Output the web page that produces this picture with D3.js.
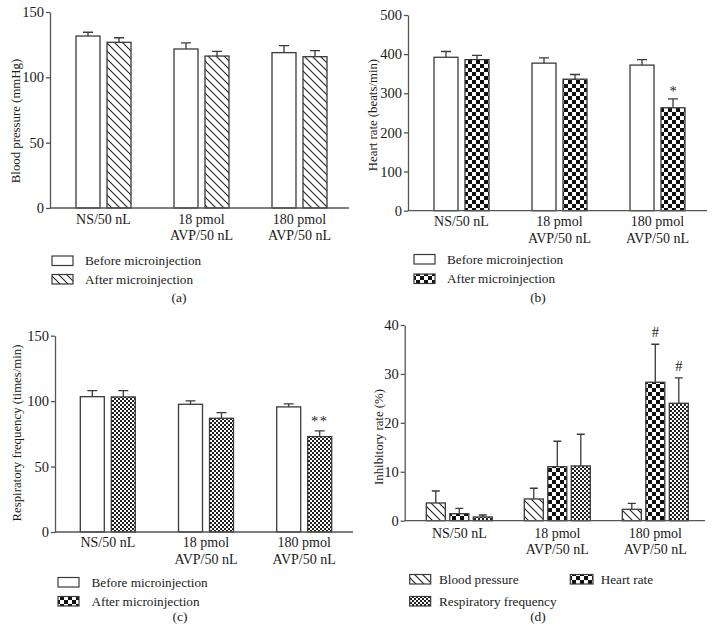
<!DOCTYPE html>
<html><head><meta charset="utf-8">
<script src="https://cdn.jsdelivr.net/npm/d3@7"></script>
<style>
body{margin:0;background:#fff}
text{font-family:"Liberation Serif","Times New Roman",serif;fill:#1a1a1a}
</style></head><body>
<svg id="c" width="716" height="640"></svg>
<script>
// ---------- data ----------
const groups = ["NS/50 nL", "18 pmol\nAVP/50 nL", "180 pmol\nAVP/50 nL"];

const bpBefore = [131.6, 121.7, 118.9];
const bpBeforeErr = [2.9, 4.6, 5.3];
const bpAfter = [126.8, 116.3, 115.8];
const bpAfterErr = [3.5, 3.6, 4.6];

const hrBefore = [392, 377, 372];
const hrBeforeErr = [14.7, 13.5, 14];
const hrAfter = [386, 336, 263];
const hrAfterErr = [11, 12, 22.7];

const rfBefore = [103.4, 97.6, 95.6];
const rfBeforeErr = [4.6, 2.6, 2.3];
const rfAfter = [103.2, 86.9, 72.9];
const rfAfterErr = [4.8, 4.3, 4.3];

const inhBP = [3.62, 4.44, 2.33];
const inhBPErr = [2.45, 2.19, 1.23];
const inhHR = [1.43, 11.04, 28.3];
const inhHRErr = [1.1, 5.2, 7.77];
const inhRF = [0.76, 11.19, 24.0];
const inhRFErr = [0.41, 6.48, 5.2];

const ticksBP = [0, 50, 100, 150];
const ticksHR = [0, 100, 200, 300, 400, 500];
const ticksRF = [0, 50, 100, 150];
const ticksInh = [0, 10, 20, 30, 40];

// ---------- setup ----------
const FS_TICK = 14.5, FS_X = 14, FS_LEG = 13.2, FS_YL = 12.8, FS_SUB = 13.5;
const svg = d3.select("#c");
const defs = svg.append("defs");
// hatch
const ph = defs.append("pattern").attr("id","hatch").attr("patternUnits","userSpaceOnUse")
  .attr("width",8).attr("height",8);
ph.append("rect").attr("width",8).attr("height",8).attr("fill","#fff");
ph.append("path").attr("d","M0,0L8,8M-2,6L2,10M6,-2L10,2").attr("stroke","#222").attr("stroke-width",1.1);
// coarse checker
const pc = defs.append("pattern").attr("id","checker").attr("patternUnits","userSpaceOnUse")
  .attr("width",8).attr("height",8);
pc.append("rect").attr("width",8).attr("height",8).attr("fill","#fff");
pc.append("rect").attr("width",4).attr("height",4).attr("fill","#111");
pc.append("rect").attr("x",4).attr("y",4).attr("width",4).attr("height",4).attr("fill","#111");
// fine checker
const pf = defs.append("pattern").attr("id","fine").attr("patternUnits","userSpaceOnUse")
  .attr("width",4).attr("height",4);
pf.append("rect").attr("width",4).attr("height",4).attr("fill","#fff");
pf.append("rect").attr("width",2).attr("height",2).attr("fill","#222");
pf.append("rect").attr("x",2).attr("y",2).attr("width",2).attr("height",2).attr("fill","#222");

const AX = "#555", BAR = "#3a3a3a";

function panel(cfg) {
  const g = svg.append("g");
  const n = cfg.series.length;
  const inner = n * cfg.bw + (n - 1) * cfg.gap;
  const x0 = d3.scaleBand().domain(groups)
    .range([cfg.c0 - cfg.step / 2, cfg.c0 + cfg.step * 2.5]);
  const x1 = d3.scaleBand().domain(cfg.series.map(s => s.key))
    .range([-inner / 2, inner / 2]).paddingInner(cfg.gap / (cfg.bw + cfg.gap));
  const y = d3.scaleLinear().domain([0, cfg.max]).range([cfg.y0, cfg.yTop]);
  const cx = gr => x0(gr) + x0.bandwidth() / 2;

  // bars + error bars
  cfg.series.forEach(s => {
    const sg = g.append("g");
    sg.selectAll("path.err").data(groups).join("path").attr("class","err")
      .attr("d", (gr, i) => {
        const xc = cx(gr) + x1(s.key) + x1.bandwidth() / 2;
        const yt = y(s.values[i] + s.err[i]);
        return `M${xc},${y(s.values[i])}V${yt}M${xc - cfg.cap},${yt}H${xc + cfg.cap}`;
      })
      .attr("stroke", BAR).attr("stroke-width", 1.3).attr("fill", "none");
    sg.selectAll("rect").data(groups).join("rect")
      .attr("x", gr => cx(gr) + x1(s.key))
      .attr("width", x1.bandwidth())
      .attr("y", (gr, i) => y(s.values[i]))
      .attr("height", (gr, i) => cfg.y0 - y(s.values[i]))
      .attr("fill", s.fill).attr("stroke", BAR).attr("stroke-width", 1.3);
    if (s.marks) {
      s.marks.forEach((m, i) => {
        if (!m) return;
        const xc = cx(groups[i]) + x1(s.key) + x1.bandwidth() / 2;
        g.append("text").attr("x", xc).attr("y", y(s.values[i] + s.err[i]) - m.dy)
          .attr("text-anchor", "middle").attr("font-size", 14.5)
          .attr("letter-spacing", m.ls || 0).text(m.t);
      });
    }
  });

  // y axis
  const ya = g.append("g").attr("transform", `translate(${cfg.ax},0)`)
    .call(d3.axisLeft(y).tickValues(cfg.ticks).tickSize(4).tickSizeOuter(0).tickPadding(2));
  ya.select(".domain").attr("stroke", AX).attr("stroke-width", 1.3);
  ya.selectAll(".tick line").attr("stroke", AX).attr("stroke-width", 1.3);
  ya.selectAll(".tick text").attr("font-size", FS_TICK).attr("fill", "#1a1a1a");

  // x axis
  const xa = g.append("g").attr("transform", `translate(0,${cfg.y0})`)
    .call(d3.axisBottom(x0).tickSize(0).tickSizeOuter(0));
  xa.select(".domain").attr("d", `M${cfg.ax},0H${cfg.axEnd}`).attr("stroke", AX).attr("stroke-width", 1.3);
  xa.selectAll(".tick text").each(function(d) {
    const t = d3.select(this).text(null).attr("y", null).attr("dy", null)
      .attr("font-size", FS_X).attr("fill", "#1a1a1a");
    d.split("\n").forEach((line, i) => {
      t.append("tspan").attr("x", 0).attr("y", i === 0 ? cfg.lab1 : cfg.lab2).text(line);
    });
  });

  // y label
  g.append("text").attr("transform", `translate(${cfg.ylx},${cfg.yly}) rotate(-90)`)
    .attr("text-anchor", "middle").attr("font-size", FS_YL).text(cfg.ylabel);

  // legend
  cfg.legend.forEach(l => {
    g.append("rect").attr("x", l.x).attr("y", l.y - 9).attr("width", l.w || 21).attr("height", 9.5)
      .attr("fill", l.fill).attr("stroke", BAR).attr("stroke-width", 1.2);
    g.append("text").attr("x", l.tx).attr("y", l.y).attr("font-size", FS_LEG).text(l.label);
  });

  // sub label
  g.append("text").attr("x", cfg.sub[0]).attr("y", cfg.sub[1]).attr("text-anchor", "middle")
    .attr("font-size", FS_SUB).text(cfg.sub[2]);
}

// (a)
panel({
  ax: 50, axEnd: 349, y0: 208, yTop: 12, max: 150, ticks: ticksBP,
  c0: 103.5, step: 98, bw: 24, gap: 7, cap: 5, lab1: 15.5, lab2: 31.5,
  series: [
    {key: "before", values: bpBefore, err: bpBeforeErr, fill: "#fff"},
    {key: "after", values: bpAfter, err: bpAfterErr, fill: "url(#hatch)"}
  ],
  ylabel: "Blood pressure (mmHg)", ylx: 19.5, yly: 121,
  legend: [
    {x: 52, y: 265, tx: 85, label: "Before microinjection", fill: "#fff"},
    {x: 52, y: 283.5, tx: 85, label: "After microinjection", fill: "url(#hatch)"}
  ],
  sub: [179, 302, "(a)"]
});

// (b)
panel({
  ax: 408, axEnd: 707, y0: 210.7, yTop: 15, max: 500, ticks: ticksHR,
  c0: 461.5, step: 98, bw: 24, gap: 7, cap: 5, lab1: 15.5, lab2: 32,
  series: [
    {key: "before", values: hrBefore, err: hrBeforeErr, fill: "#fff"},
    {key: "after", values: hrAfter, err: hrAfterErr, fill: "url(#checker)",
     marks: [null, null, {t: "*", dy: 2.5}]}
  ],
  ylabel: "Heart rate (beats/min)", ylx: 376.5, yly: 115,
  legend: [
    {x: 414, y: 263.5, tx: 447, label: "Before microinjection", fill: "#fff"},
    {x: 414, y: 283, tx: 447, label: "After microinjection", fill: "url(#checker)"}
  ],
  sub: [538, 302, "(b)"]
});

// (c)
panel({
  ax: 55, axEnd: 353, y0: 532, yTop: 335.7, max: 150, ticks: ticksRF,
  c0: 107.8, step: 98.2, bw: 24, gap: 7, cap: 5, lab1: 15, lab2: 31.5,
  series: [
    {key: "before", values: rfBefore, err: rfBeforeErr, fill: "#fff"},
    {key: "after", values: rfAfter, err: rfAfterErr, fill: "url(#fine)",
     marks: [null, null, {t: "**", dy: 4.5, ls: 1.5}]}
  ],
  ylabel: "Respiratory frequency (times/min)", ylx: 21, yly: 433,
  legend: [
    {x: 58, y: 586.5, tx: 91.5, label: "Before microinjection", fill: "#fff"},
    {x: 58, y: 605.5, tx: 91.5, label: "After microinjection", fill: "url(#checker)"}
  ],
  sub: [180, 621, "(c)"]
});

// (d)
panel({
  ax: 404.7, axEnd: 705, y0: 520.7, yTop: 325, max: 40, ticks: ticksInh,
  c0: 459.3, step: 98, bw: 19, gap: 4.5, cap: 4, lab1: 17.5, lab2: 33,
  series: [
    {key: "bp", values: inhBP, err: inhBPErr, fill: "url(#hatch)"},
    {key: "hr", values: inhHR, err: inhHRErr, fill: "url(#checker)",
     marks: [null, null, {t: "#", dy: 7}]},
    {key: "rf", values: inhRF, err: inhRFErr, fill: "url(#fine)",
     marks: [null, null, {t: "#", dy: 7}]}
  ],
  ylabel: "Inhibitory rate (%)", ylx: 382.5, yly: 437,
  legend: [
    {x: 409.7, y: 583.5, tx: 439, label: "Blood pressure", fill: "url(#hatch)"},
    {x: 570.3, y: 583.5, w: 22.7, tx: 600.7, label: "Heart rate", fill: "url(#checker)"},
    {x: 409.7, y: 605.5, tx: 439, label: "Respiratory frequency", fill: "url(#fine)"}
  ],
  sub: [538, 621, "(d)"]
});
</script>
</body></html>
